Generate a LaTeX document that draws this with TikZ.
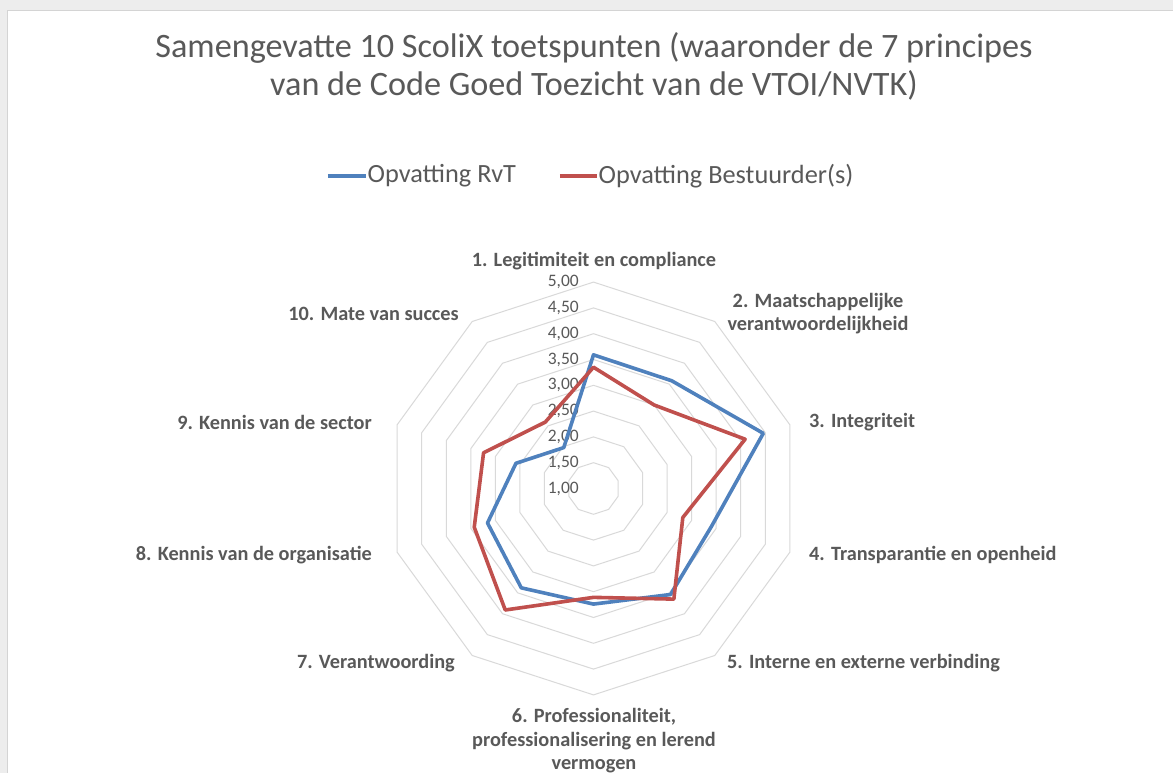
\documentclass[tikz,border=0pt]{standalone}
\usepackage{fontspec}
\setmainfont{Carlito}
\usetikzlibrary{positioning}
\definecolor{rvtblue}{HTML}{4F81BD}
\definecolor{bestred}{HTML}{C0504D}
\definecolor{txtgray}{HTML}{595959}
\definecolor{gridgray}{HTML}{D9D9D9}
\definecolor{pagegray}{HTML}{EDEDED}
\definecolor{framegray}{HTML}{D4D4D4}

\begin{document}
\begin{tikzpicture}[
        x=1pt, y=1pt,
        ring/.style = {draw=gridgray, line width=1pt},
        series/.style = {line width=3.6pt, line join=round},
        axislabel/.style = {text=txtgray, font=\fontsize{20.3}{23.3}\selectfont\bfseries, inner sep=0pt},
        ticklabel/.style = {text=txtgray, font=\fontsize{17.5}{20}\selectfont, anchor=east, inner sep=0pt},
        legtext/.style = {text=txtgray, font=\fontsize{26.3}{30}\selectfont, inner sep=0pt},
        charttitle/.style = {text=txtgray, font=\fontsize{34.2}{38}\selectfont, align=center, inner sep=0pt},
    ]
    \useasboundingbox (-593.5,-284.5) rectangle (579.5,488.5);
    \fill[pagegray] (-593.5,-284.5) rectangle (579.5,488.5);
    \filldraw[fill=white, draw=framegray] (-586.5,-290) rectangle (590,478.5);

    % titel en legenda
    \node[charttitle] (title) at (0.5,422.5) {Samengevatte 10 ScoliX toetspunten (waaronder de 7 principes\\van de Code Goed Toezicht van de VTOI/NVTK)};
    \coordinate (legA) at (-265.5,312.5);
    \coordinate (legB) at (-227.5,312.5);
    \coordinate (legC) at (-33.5,312.5);
    \coordinate (legD) at (3.5,312.5);
    \draw[series, rvtblue] (legA) -- (legB);
    \node[legtext, right=1.5pt of legB] (legRvT) {Opvatting RvT};
    \draw[series, bestred] (legC) -- (legD);
    \node[legtext, right=1.5pt of legD] (legBest) {Opvatting Bestuurder(s)};

    % ringen van het web
    \foreach \i in {1,...,8}{
        \draw[ring] (90:\i*25.8) \foreach \k in {1,...,9}{ -- ({90-36*\k}:\i*25.8)} -- cycle;
    }
    \foreach \i/\t in {0/{1,00},1/{1,50},2/{2,00},3/{2,50},4/{3,00},5/{3,50},6/{4,00},7/{4,50},8/{5,00}}{
        \node[ticklabel] (tick\i) at (-14.5,\i*25.8) {\t};
    }

    % assen
    \node[axislabel] (lab1) at (0.5,227.5) {1. Legitimiteit en compliance};
    \node[axislabel, align=center] (lab2) at (224.5,175) {2. Maatschappelijke\\verantwoordelijkheid};
    \node[axislabel, anchor=west] (lab3) at (215.5,66.5) {3. Integriteit};
    \node[axislabel, anchor=west] (lab4) at (215.5,-66.5) {4. Transparantie en openheid};
    \node[axislabel, anchor=west] (lab5) at (133.5,-174.5) {5. Interne en externe verbinding};
    \node[axislabel, align=center, font=\fontsize{20.3}{23.5}\selectfont\bfseries] (lab6) at (0.5,-252.5) {6. Professionaliteit,\\professionalisering en lerend\\vermogen};
    \node[axislabel, anchor=east] (lab7) at (-138.5,-174.5) {7. Verantwoording};
    \node[axislabel, anchor=east] (lab8) at (-221.5,-66.5) {8. Kennis van de organisatie};
    \node[axislabel, anchor=east] (lab9) at (-221.5,66.5) {9. Kennis van de sector};
    \node[axislabel, anchor=east] (lab10) at (-134.5,174.5) {10. Mate van succes};

    % reeksen
    \foreach \v [count=\k] in {3.59,3.58,4.46,3.40,3.54,3.24,3.38,3.16,2.58,1.98}
        \coordinate (rvt\k) at ({126-36*\k}:{(\v-1)*51.6});
    \foreach \v [count=\k] in {3.35,3.00,4.09,2.82,3.65,3.11,3.91,3.43,3.24,2.59}
        \coordinate (best\k) at ({126-36*\k}:{(\v-1)*51.6});
    \draw[series, rvtblue] (rvt1) -- (rvt2) -- (rvt3) -- (rvt4) -- (rvt5) -- (rvt6) -- (rvt7) -- (rvt8) -- (rvt9) -- (rvt10) -- cycle;
    \draw[series, bestred] (best1) -- (best2) -- (best3) -- (best4) -- (best5) -- (best6) -- (best7) -- (best8) -- (best9) -- (best10) -- cycle;
\end{tikzpicture}
\end{document}
